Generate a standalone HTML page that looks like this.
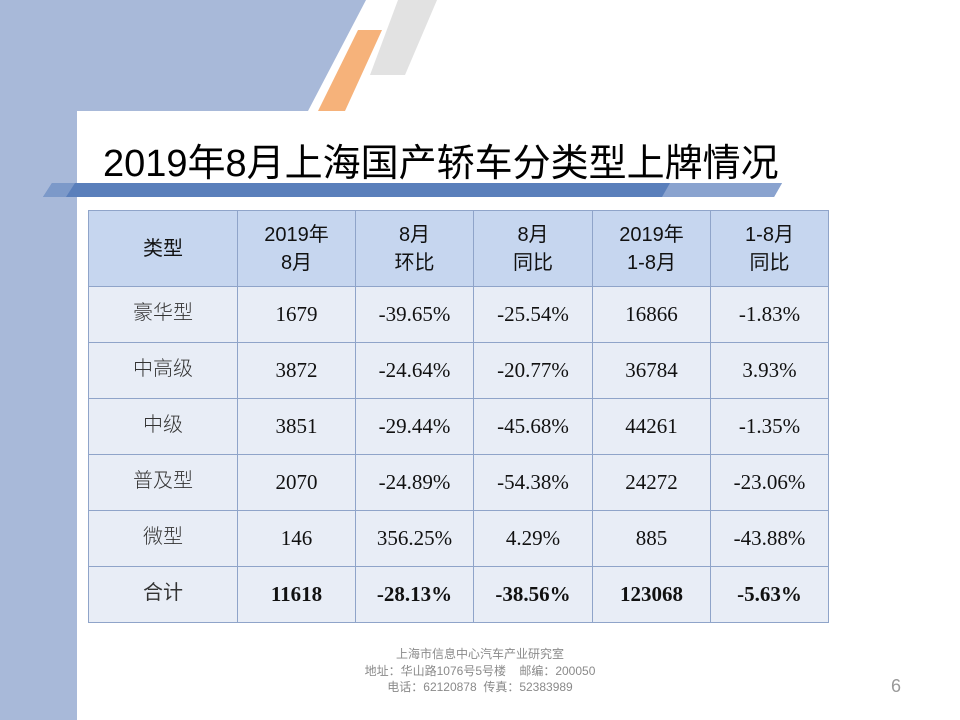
<!DOCTYPE html>
<html><head><meta charset="utf-8"><style>
html,body{margin:0;padding:0}
body{width:960px;height:720px;position:relative;overflow:hidden;background:#fff;font-family:"Liberation Sans","Noto Sans CJK SC",sans-serif}
.abs{position:absolute}
table{position:absolute;left:88px;top:210px;border-collapse:collapse;table-layout:fixed}
td{border:1.5px solid #8fa4c9;text-align:center;vertical-align:middle;padding:0;color:#111}
tr.h td{background:#c6d6ef;height:75px;font-size:20px;line-height:28px;font-family:"Liberation Sans","Noto Sans CJK SC",sans-serif;color:#111}
tr.b td{background:#e8edf6;height:55px;font-size:21px;font-family:"Liberation Serif","Noto Sans CJK SC",serif}
tr.b td.c{font-family:"Noto Sans CJK SC",sans-serif;font-size:20px;color:#333;font-weight:300;padding-bottom:8px;height:47px}
tr.t td{font-weight:bold}
tr.t td.c{font-weight:normal}
</style></head><body>
<svg class="abs" style="left:0;top:0" width="960" height="720">
<polygon points="0,0 366,0 308,111 0,111" fill="#a8b9d9"/>
<rect x="0" y="111" width="77" height="609" fill="#a8b9d9"/>
<polygon points="398,0 437,0 405,75 370,75" fill="#e2e2e2"/>
<polygon points="358,30 382,30 345,111 318,111" fill="#f6b27a"/>
<path d="M77,720 L77,123 Q77,111 89,111 L960,111 L960,720 Z" fill="#fff"/>
<polygon points="52,183 782,183 774,197 43,197" fill="#5a7fbb"/>
<polygon points="670,183 782,183 774,197 662,197" fill="#8aa3cf"/>
<polygon points="52,183 75,183 66,197 43,197" fill="#7c99c9"/>
</svg>
<div class="abs" style="left:103px;top:132px;font-size:38px;color:#000;white-space:nowrap;font-family:'Liberation Sans','Noto Sans CJK SC',sans-serif">2019年8月上海国产轿车分类型上牌情况</div>
<table>
<colgroup><col style="width:149px"><col style="width:118px"><col style="width:118px"><col style="width:119px"><col style="width:118px"><col style="width:118px"></colgroup>
<tr class="h"><td>类型</td><td>2019年<br>8月</td><td>8月<br>环比</td><td>8月<br>同比</td><td>2019年<br>1-8月</td><td>1-8月<br>同比</td></tr>
<tr class="b"><td class="c">豪华型</td><td>1679</td><td>-39.65%</td><td>-25.54%</td><td>16866</td><td>-1.83%</td></tr>
<tr class="b"><td class="c">中高级</td><td>3872</td><td>-24.64%</td><td>-20.77%</td><td>36784</td><td>3.93%</td></tr>
<tr class="b"><td class="c">中级</td><td>3851</td><td>-29.44%</td><td>-45.68%</td><td>44261</td><td>-1.35%</td></tr>
<tr class="b"><td class="c">普及型</td><td>2070</td><td>-24.89%</td><td>-54.38%</td><td>24272</td><td>-23.06%</td></tr>
<tr class="b"><td class="c">微型</td><td>146</td><td>356.25%</td><td>4.29%</td><td>885</td><td>-43.88%</td></tr>
<tr class="b t"><td class="c">合计</td><td>11618</td><td>-28.13%</td><td>-38.56%</td><td>123068</td><td>-5.63%</td></tr>
</table>
<div class="abs" style="left:330px;top:646px;width:300px;text-align:center;font-size:12px;line-height:16.5px;color:#8a8a8a;font-family:'Liberation Sans','Noto Sans CJK SC',sans-serif">
<div>上海市信息中心汽车产业研究室</div>
<div>地址：华山路1076号5号楼&nbsp;&nbsp;&nbsp;&nbsp;邮编：200050</div>
<div>电话：62120878&nbsp;&nbsp;传真：52383989</div>
</div>
<div class="abs" style="left:891px;top:676px;font-size:18px;color:#999">6</div>
</body></html>
